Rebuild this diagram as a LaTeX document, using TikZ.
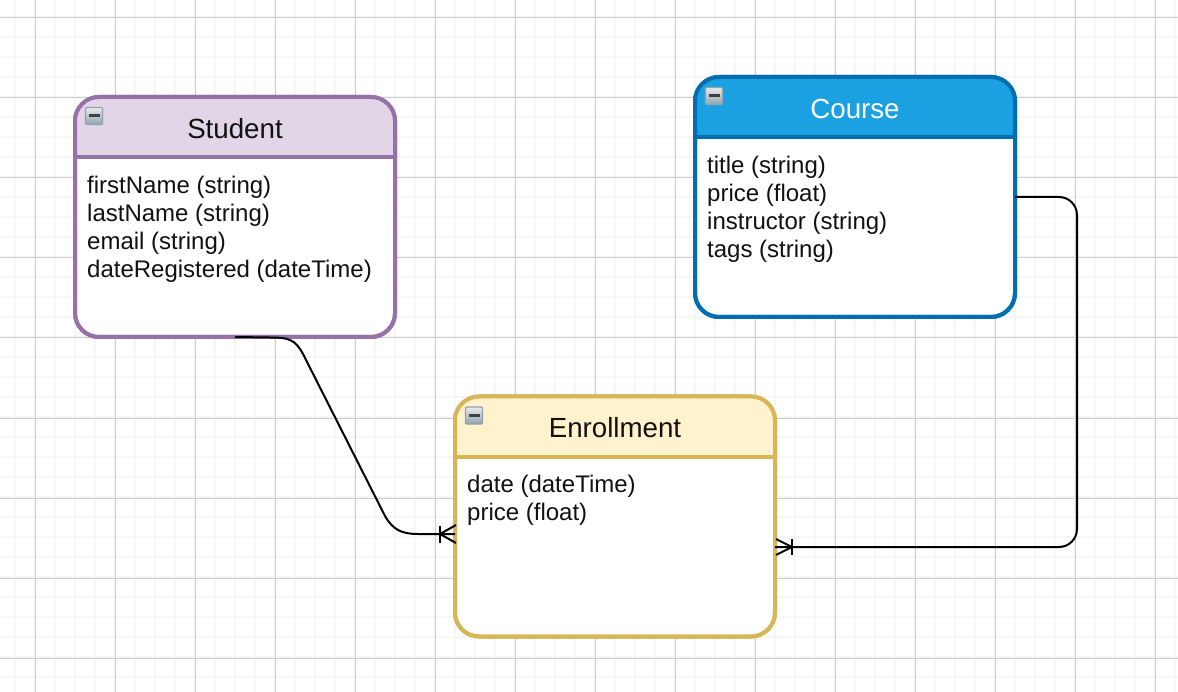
\documentclass[tikz,border=0pt]{standalone}
\usepackage{fontspec}
\setmainfont{Liberation Sans}
\usetikzlibrary{calc}
\definecolor{minorgrid}{HTML}{F6F6F6}
\definecolor{majorgrid}{HTML}{CCCCCC}
\definecolor{purplestroke}{HTML}{9673A6}
\definecolor{purplefill}{HTML}{E1D5E7}
\definecolor{bluestroke}{HTML}{006EAF}
\definecolor{bluefill}{HTML}{1BA1E2}
\definecolor{yellowstroke}{HTML}{D6B656}
\definecolor{yellowfill}{HTML}{FFF2CC}
\definecolor{iconedge}{HTML}{8FA3B0}
\definecolor{inktext}{HTML}{111111}
\tikzset{
  entity/.style={draw=#1,line width=4pt,fill=white,rounded corners=24pt,minimum width=320pt,minimum height=240pt,inner sep=0pt,outer sep=0pt},
  titletext/.style={font=\fontsize{27.7}{32}\selectfont,inner sep=0pt,anchor=center},
  bodytext/.style={font=\fontsize{24}{28}\selectfont,text=inktext,align=left,inner sep=0pt,anchor=north west},
  link/.style={draw=black,line width=2pt,rounded corners=18pt},
  crow/.style={draw=black,line width=2pt},
}
\newcommand{\entityhead}[3]{%
  \begin{scope}
    \clip[rounded corners=24pt] (#1.north west) rectangle (#1.south east);
    \fill[#2] (#1.north west) rectangle ($(#1.north east)+(0,60)$);
  \end{scope}
  \draw[#3,line width=4pt,rounded corners=24pt] (#1.north west) rectangle (#1.south east);
  \draw[#3,line width=4pt] ($(#1.north west)+(0,60)$) -- ($(#1.north east)+(0,60)$);
}
\newcommand{\entityicon}[1]{%
  \begin{scope}[shift={($(#1.north west)+(10.5,10.5)$)}]
    \shade[top color=black!8,bottom color=iconedge,draw=iconedge,line width=1.2pt,rounded corners=1pt] (0,0) rectangle (17,17);
    \fill[black!75] (3,7) rectangle (14,10);
  \end{scope}
}
\begin{document}
\begin{tikzpicture}[x=1pt,y=-1pt]
\useasboundingbox (0,0) rectangle (1178,692);
\fill[white] (0,0) rectangle (1178,692);
\foreach \x in {15,35,...,1175} \draw[minorgrid,line width=1.5pt] (\x,0) -- (\x,692);
\foreach \y in {17.2,37.2,...,680} \draw[minorgrid,line width=1.5pt] (0,\y) -- (1178,\y);
\foreach \x in {35.5,115.5,...,1175} \draw[majorgrid,line width=1pt] (\x,0) -- (\x,692);
\foreach \n in {0,...,8} \draw[majorgrid,line width=1pt] (0,17.5+\n*80.1) -- (1178,17.5+\n*80.1);

\node[entity=purplestroke] (student) at (235,217) {};
\node[entity=bluestroke] (course) at (855,197) {};
\node[entity=yellowstroke] (enrollment) at (615,516.5) {};
\entityhead{student}{purplefill}{purplestroke}
\entityhead{course}{bluefill}{bluestroke}
\entityhead{enrollment}{yellowfill}{yellowstroke}
\entityicon{student}
\entityicon{course}
\entityicon{enrollment}

\node[titletext,text=inktext] (studenttitle) at (235,128.8) {Student};
\node[titletext,text=white] (coursetitle) at (855,108.8) {Course};
\node[titletext,text=inktext] (enrollmenttitle) at (615,427.8) {Enrollment};

\node[bodytext] (studentbody) at (87,175.5) {firstName (string)\\lastName (string)\\email (string)\\dateRegistered (dateTime)};
\node[bodytext] (coursebody) at (707,155.5) {title (string)\\price (float)\\instructor (string)\\tags (string)};
\node[bodytext] (enrollmentbody) at (467,474.5) {date (dateTime)\\price (float)};

\coordinate (enrollin) at ($(enrollment.west)+(0,17.5)$);
\coordinate (enrollinb) at ($(enrollment.east)+(0,30.5)$);
\draw[black,line width=2pt] (student.south) -- (270,337.5) .. controls (288,337.5) and (295,339) .. (303,354) -- (385,516) .. controls (393,530) and (402,534) .. (418,534) -- (enrollin);
\draw[link] (course.east) -- (1077,197) -- (1077,547) -- (enrollinb);

\draw[crow] (440,526) -- (440,543);
\draw[crow] (enrollin) ++(1,-9) -- (440,534) -- ++(16,9);
\draw[crow] (792,539) -- (792,555);
\draw[crow] (enrollinb) ++(1,-8) -- (792,547) -- ++(-16,8);
\end{tikzpicture}
\end{document}
